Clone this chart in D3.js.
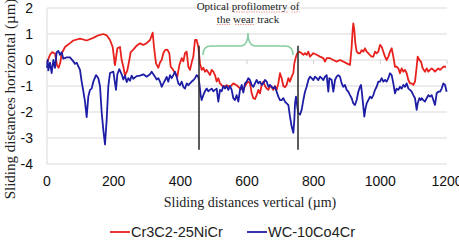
<!DOCTYPE html>
<html>
<head>
<meta charset="utf-8">
<script src="https://cdn.jsdelivr.net/npm/d3@7"></script>
<style>
  body { margin: 0; background: #fff; }
  .tick-label { font-family: "Liberation Sans", Arial, sans-serif; font-size: 14px; fill: #111; }
  .axis-title { font-family: "Liberation Serif", "Times New Roman", serif; font-size: 14px; fill: #222; }
  .note { font-family: "Liberation Serif", "Times New Roman", serif; font-size: 11px; fill: #222; }
  .legend-text { font-family: "Liberation Sans", Arial, sans-serif; font-size: 14.5px; fill: #222; }
</style>
</head>
<body>
<div id="chart"></div>
<script>
// x ticks and y ticks
let xTicks = [0, 200, 400, 600, 800, 1000, 1200];
let yTicks = [-4, -3, -2, -1, 0, 1, 2];
let seriesNames = ["Cr3C2-25NiCr", "WC-10Co4Cr"];

// Cr3C2-25NiCr
let redX = [0, 9, 15, 24, 30, 35, 40, 44, 54, 69, 79, 99, 119, 139, 154, 169, 179, 189, 197, 204, 211, 219, 224, 229, 234, 241, 247, 251, 259, 269, 279,
  289, 299, 309, 317, 321, 327, 334, 339, 344, 349, 354, 361, 367, 371, 377, 384, 391, 397, 404, 409, 414, 419, 424, 429, 434, 439, 444, 449, 454, 459, 464, 469, 474, 479, 489, 494, 499, 504, 509, 514, 519, 529, 539, 549, 559, 569,
  579, 589, 594, 599, 604, 609, 614, 619, 624, 629, 634, 639, 644, 649, 654, 659, 664, 669, 674, 679, 684, 689, 694, 699, 704, 709, 714, 719, 724, 729, 734, 739, 742, 747, 751, 757, 764, 769, 774, 779, 784, 789, 794, 799, 809, 819, 829, 834, 839, 849, 859, 869, 879,
  889, 899, 909, 914, 917, 919, 922, 925, 929, 934, 939, 944, 949, 954, 959, 964, 969, 974, 979, 984, 989, 994, 999, 1004, 1009, 1014, 1019, 1024, 1029, 1034, 1039, 1044, 1049, 1054, 1059, 1064, 1069, 1074, 1079, 1084, 1089, 1094, 1099, 1104, 1109, 1112, 1117, 1122, 1127, 1134, 1139, 1144, 1149, 1154, 1159, 1164, 1169, 1174, 1179, 1184, 1189, 1197];
let redY = [-0.1, 0.2, 0.3, 0.25, -0.2, -0.3, -0.1, 0.25, 0.5, 0.65, 0.75, 0.82, 0.75, 0.85, 0.95, 1.0, 0.95, 0.77, 0.5, -0.2, 0.45, 0.5, 0, -0.26, -0.6, -0.4, 0, 0.3, 0.4, 0.55, 0.64,
  0.58, 0.65, 0.77, 1.05, 0.5, -0.13, -0.3, -0.1, 0.0, 0.26, 0.38, 0.4, 0.26, -0.26, -0.35, -0.5, -0.64, -0.2, 0.07, -0.05, 0.26, 0.32, -0.26, -0.38, -0.1, 0.13, 0.77, 0.77, 0.5, -0.13, -0.38, -0.3, -0.45, -0.38, -0.58, -0.38, -0.45, -0.58, -0.83, -0.7, -0.9, -1.03, -0.97, -1.03, -0.9, -0.97,
  -1.09, -1.15, -1.0, -0.9, -0.83, -0.9, -1.28, -1.47, -1.5, -1.35, -1.15, -1.28, -0.96, -0.83, -1.0, -1.1, -1.15, -1.0, -1.05, -1.15, -1.0, -1.15, -0.9, -0.51, -0.7, -1.0, -1.05, -0.95, -0.7, -0.83, -0.64, -0.5, -0.13, 0.13, 0.26, 0.32, 0.26, 0.2, 0.26, 0.2, 0.32, 0.13, 0.2, 0.26, 0.2, 0.13, 0.07, -0.06, 0.07, 0.07, 0.0, -0.06, 0.0,
  -0.06, -0.13, -0.19, 0.51, 1.15, 1.41, 1.15, 0.64, 0.32, 0.26, 0.26, 0.38, 0.32, 0.45, 0.32, 0.26, 0.19, 0.13, 0.13, 0.32, 0.26, 0.32, 0.58, 0.51, 0.32, 0.13, 0.0, 0.13, 0.32, 0.45, 0.13, -0.26, -0.26, -0.32, -0.51, -0.32, -0.45, -0.38, -0.51, -0.77, -0.9, -0.9, -0.96, -0.83, -0.26, 0.13, 0.0, -0.06, -0.32, -0.45, -0.32, -0.45, -0.38, -0.32, -0.38, -0.45, -0.38, -0.32, -0.38, -0.32, -0.26, -0.26];

// WC-10Co4Cr
let blueX = [0, 2, 4, 9, 14, 19, 24, 29, 34, 39, 44, 49, 59, 69, 79, 84, 89, 99, 104, 109, 114, 119, 124, 129, 134, 139, 147, 154, 159, 164, 169, 174, 179, 184, 189, 199, 207, 211, 217, 224, 229, 234, 239, 244, 249, 254, 259, 269,
  279, 289, 299, 309, 314, 324, 329, 334, 339, 344, 349, 354, 359, 364, 369, 374, 379, 384, 389, 394, 399, 404, 409, 414, 419, 424, 429, 434, 439, 444, 449, 454, 457, 461, 464, 469, 474, 479, 484, 489, 494, 499, 504, 509, 514, 519, 524, 529, 534, 539, 544, 549, 554, 559, 564, 569, 574,
  579, 584, 589, 594, 599, 604, 609, 614, 619, 624, 629, 634, 639, 644, 649, 654, 659, 664, 669, 674, 679, 684, 689, 694, 699, 704, 709, 714, 719, 724, 729, 734, 739, 742, 744, 747, 751, 754, 759, 764, 769, 774, 779, 784, 789, 794, 799, 804, 809, 814, 819, 824, 829, 834, 839, 844, 847, 854, 859, 864, 869, 874, 879, 884,
  889, 894, 899, 904, 909, 914, 919, 924, 929, 934, 939, 942, 945, 949, 952, 955, 959, 964, 969, 974, 979, 984, 989, 994, 999, 1004, 1009, 1014, 1019, 1024, 1029, 1034, 1039, 1044, 1049, 1054, 1059, 1064, 1069, 1074, 1079, 1084, 1089, 1094, 1099, 1104, 1109, 1112, 1117, 1121, 1124, 1129, 1134, 1139, 1144, 1149, 1154, 1159, 1164, 1169, 1174, 1179, 1184, 1189, 1194, 1199];
let blueY = [-0.3, 0, -0.4, -0.1, -0.5, 0, -0.3, 0.3, 0.35, 0.2, 0.3, 0.05, 0.1, 0.1, -0.05, -0.15, -0.1, -0.38, -0.83, -1.2, -1.6, -2.2, -1.4, -1.15, -1.1, -0.83, -0.58, -0.7, -1.0, -2.0, -2.7, -3.25, -2.3, -1.0, -0.5, -0.45, -1.15, -0.55, -0.35, -0.55, -0.75, -0.6, -0.85, -0.7, -0.8, -0.6, -0.72, -0.62,
  -0.6, -0.55, -0.64, -0.55, -0.45, -0.64, -0.75, -0.7, -0.83, -1.03, -0.9, -0.78, -0.65, -0.83, -0.58, -0.7, -0.58, -0.45, -0.65, -0.9, -0.97, -0.83, -1.03, -1.1, -0.9, -0.97, -0.9, -0.83, -0.78, -0.7, -0.58, -0.65, -0.9, -1.35, -1.54, -1.35, -1.2, -1.1, -1.2, -1.15, -1.1, -1.2, -1.15, -1.1, -1.6, -1.15, -1.2, -1.0, -1.1, -1.0, -1.15, -1.0, -1.15, -1.47, -1.54, -1.35, -1.6,
  -1.15, -0.96, -1.25, -0.9, -0.83, -0.7, -0.77, -0.96, -1.03, -0.9, -0.77, -0.9, -0.83, -0.96, -0.9, -0.77, -0.83, -1.03, -0.96, -1.03, -1.09, -1.03, -1.22, -1.41, -1.54, -1.54, -1.47, -1.6, -1.67, -1.73, -2.18, -2.56, -2.8, -2.3, -1.67, -1.41, -1.8, -2.05, -2.1, -1.92, -1.54, -1.22, -1.03, -0.77, -0.64, -0.7, -0.77, -0.64, -0.7, -0.77, -0.64, -0.7, -0.77, -0.64, -0.58, -1.22, -0.7, -0.77, -1.22, -0.77, -0.64, -0.58, -0.64, -0.9,
  -1.03, -0.96, -1.15, -1.22, -1.35, -1.47, -1.67, -1.73, -1.54, -1.22, -1.03, -0.96, -1.28, -1.8, -2.18, -1.9, -1.67, -1.54, -1.41, -1.47, -1.35, -1.15, -1.03, -0.83, -0.83, -0.7, -0.83, -0.77, -0.83, -0.7, -0.51, -0.58, -0.9, -1.28, -1.1, -1.15, -1.03, -1.1, -0.96, -1.03, -0.9, -1.1, -1.15, -1.22, -1.35, -1.47, -1.92, -1.67, -1.47, -1.54, -1.47, -1.54, -1.6, -1.47, -1.35, -1.41, -1.35, -1.54, -1.73, -1.28, -1.22, -1.22, -1.1, -0.9, -0.96, -1.22];

// wear track markers and annotation
let wearTrackX = [456, 753];
let wearTrackY = [0.55, -3.45];
let braceX = [468, 603, 738];
let braceY = [0.19, 0.54, 1.04];
let noteWords = [["Optical", "profilometry", "of"], ["the", "wear", "track"]];
// words with a red spell-check squiggle under them
let markedWords = ["profilometry", "of", "the", "wear"];

let colors = ["#e8211d", "#1d1da6"];

drawChart();

function drawChart() {
    let width = 459;
    let height = 244;

    let svg = d3.select("#chart")
        .append("svg")
            .attr("width", width)
            .attr("height", height);

    let x = d3.scaleLinear().domain([0, 1200]).range([47, 447]);
    let y = d3.scaleLinear().domain([-4, 2]).range([164, 8]);

    // gridlines
    svg.append("g")
        .selectAll("line")
        .data(yTicks)
        .enter().append("line")
            .attr("x1", x(0))
            .attr("x2", x(1200))
            .attr("y1", d => y(d))
            .attr("y2", d => y(d))
            .attr("stroke", "#d9d9d9")
            .attr("stroke-width", 1);

    // left axis line
    svg.append("line")
        .attr("x1", x(0)).attr("x2", x(0))
        .attr("y1", y(2)).attr("y2", y(-4))
        .attr("stroke", "#d9d9d9");

    // small tick marks on the zero line
    svg.append("g")
        .selectAll("line")
        .data(xTicks)
        .enter().append("line")
            .attr("x1", d => x(d))
            .attr("x2", d => x(d))
            .attr("y1", y(0))
            .attr("y2", y(0) + 4)
            .attr("stroke", "#d0d0d0");

    // y tick labels
    svg.append("g")
        .selectAll("text")
        .data(yTicks)
        .enter().append("text")
            .attr("class", "tick-label")
            .attr("x", 33)
            .attr("y", d => y(d))
            .attr("dy", "0.35em")
            .attr("text-anchor", "end")
            .text(d => d);

    // x tick labels
    svg.append("g")
        .selectAll("text")
        .data(xTicks)
        .enter().append("text")
            .attr("class", "tick-label")
            .attr("x", d => x(d))
            .attr("y", 186)
            .attr("text-anchor", "middle")
            .text(d => d);

    // series
    let line = d3.line()
        .x(d => x(d[0]))
        .y(d => y(d[1]));

    let series = [d3.zip(redX, redY), d3.zip(blueX, blueY)];
    for (let i = 0; i < series.length; i++) {
        svg.append("path")
            .datum(series[i])
            .attr("d", line)
            .attr("fill", "none")
            .attr("stroke", colors[i])
            .attr("stroke-width", 1.8)
            .attr("stroke-linejoin", "round");
    }

    // wear track borders
    for (let i in wearTrackX) {
        svg.append("line")
            .attr("x1", x(wearTrackX[i])).attr("x2", x(wearTrackX[i]))
            .attr("y1", y(wearTrackY[0])).attr("y2", y(wearTrackY[1]))
            .attr("stroke", "#333")
            .attr("stroke-width", 1.6);
    }

    // curly brace
    let bx0 = x(braceX[0]), bxm = x(braceX[1]), bx1 = x(braceX[2]);
    let by0 = y(braceY[0]), bym = y(braceY[1]), byt = y(braceY[2]);
    let brace = "M" + bx0 + "," + by0 +
        " Q" + bx0 + "," + bym + " " + (bx0 + 8) + "," + bym +
        " L" + (bxm - 8) + "," + bym +
        " Q" + bxm + "," + bym + " " + bxm + "," + byt +
        " Q" + bxm + "," + bym + " " + (bxm + 8) + "," + bym +
        " L" + (bx1 - 8) + "," + bym +
        " Q" + bx1 + "," + bym + " " + bx1 + "," + by0;
    svg.append("path")
        .attr("d", brace)
        .attr("fill", "none")
        .attr("stroke", "#86cda0")
        .attr("stroke-width", 1.6);

    // annotation text, word by word so the squiggles can sit under them
    let squiggles = svg.append("g");
    for (let i = 0; i < noteWords.length; i++) {
        let t = svg.append("text")
            .attr("class", "note")
            .attr("x", bxm)
            .attr("y", 10 + i * 12.5)
            .attr("text-anchor", "middle");
        noteWords[i].forEach(function(w, j) {
            t.append("tspan").text((j > 0 ? " " : "") + w).attr("data-word", w);
        });
        t.selectAll("tspan").each(function() {
            let w = this.getAttribute("data-word");
            if (markedWords.indexOf(w) < 0) return;
            let b = this.getBBox();
            let lead = this.textContent.length - w.length;
            let x0 = b.x + (lead > 0 ? b.width * lead / this.textContent.length : 0);
            squiggles.append("line")
                .attr("x1", x0).attr("x2", b.x + b.width)
                .attr("y1", 12 + i * 12.5).attr("y2", 12 + i * 12.5)
                .attr("stroke", "#e06060")
                .attr("stroke-width", 0.9)
                .attr("stroke-dasharray", "1.5,1")
                .attr("opacity", 0.7);
        });
    }

    // axis titles
    svg.append("text")
        .attr("class", "axis-title")
        .attr("transform", "translate(14.5,99) rotate(-90)")
        .attr("text-anchor", "middle")
        .style("font-size", "15px")
        .text("Sliding distances horizontal (µm)");

    svg.append("text")
        .attr("class", "axis-title")
        .attr("x", 250)
        .attr("y", 207)
        .attr("text-anchor", "middle")
        .text("Sliding distances vertical (µm)");

    // legend
    let legendX = [110, 247];
    for (let i in seriesNames) {
        svg.append("line")
            .attr("x1", legendX[i]).attr("x2", legendX[i] + 20)
            .attr("y1", 232).attr("y2", 232)
            .attr("stroke", colors[i])
            .attr("stroke-width", 1.8);
        svg.append("text")
            .attr("class", "legend-text")
            .attr("x", legendX[i] + 21)
            .attr("y", 232)
            .attr("dy", "0.35em")
            .text(seriesNames[i]);
    }
}
</script>
</body>
</html>
